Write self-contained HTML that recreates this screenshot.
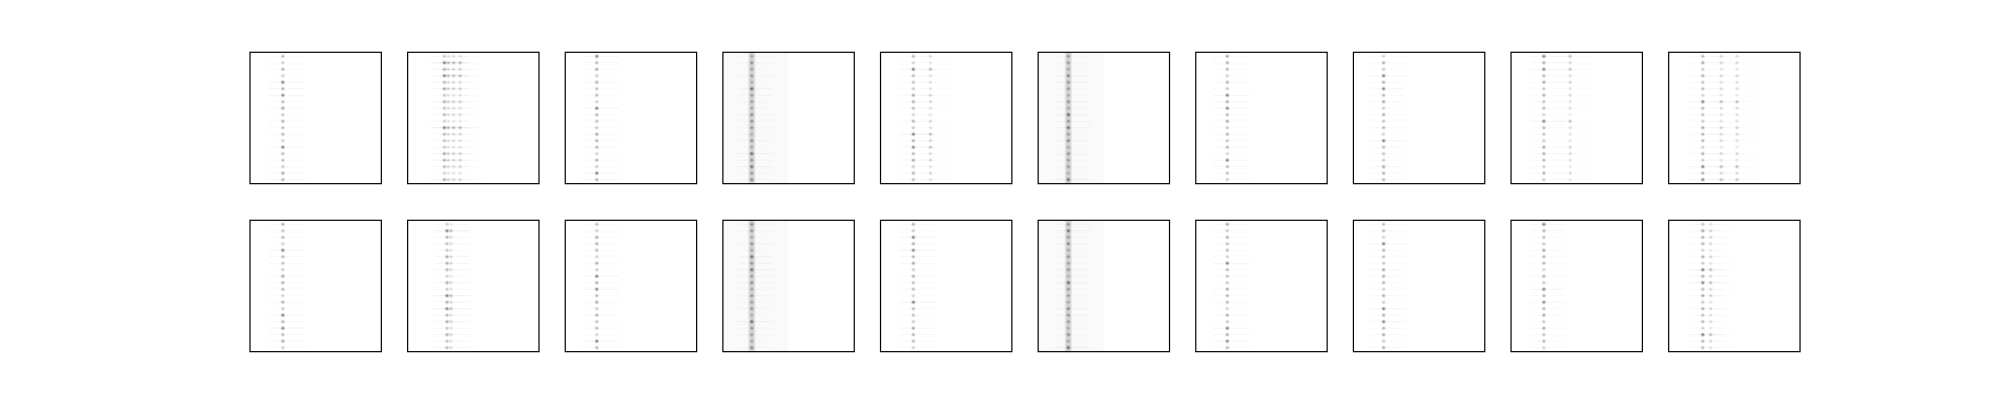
<!DOCTYPE html>
<html><head><meta charset="utf-8"><style>
html,body{margin:0;padding:0;background:#fff;}
svg{display:block;font-family:"Liberation Sans",sans-serif;}
</style></head><body>
<svg id="fig" width="2000" height="400" viewBox="0 0 2000 400" xmlns="http://www.w3.org/2000/svg">
<defs><filter id="blur" x="-50%" y="-50%" width="200%" height="200%"><feGaussianBlur stdDeviation="0.7"/></filter></defs>
</svg>
<script>
// Data: per panel main column positions (fraction of width) and type
const panelCols = [
  [0.25],[0.28,0.31,0.35,0.40],[0.24],[0.22],[0.25,0.38],[0.23],[0.24],[0.23],[0.25,0.45],[0.26,0.40,0.52],
  [0.25],[0.30,0.33],[0.24],[0.22],[0.25],[0.23],[0.24],[0.23],[0.25],[0.26,0.32]
];
const panelBand = [0,0,0,1,0,1,0,0,0,0, 0,0,0,1,0,1,0,0,0,0];
const dotIntensity = [0.45,0.3,0.5,0.35,0.8,0.5,0.75,0.45,0.55,0.35,0.5,0.4,0.45,0.3,0.8,0.45,0.4,0.35,0.55,0.5];
const dotRows = 20;

const svg = document.getElementById('fig');
const NS = 'http://www.w3.org/2000/svg';
const left = 250, step = 157.63, size = 131.36;
const rowTops = [52.3, 220.3];
function xPos(i, f){ return left + (i%10)*step + f*size; }
function yPos(i, r){ return rowTops[Math.floor(i/10)] + 4 + r*(size-8)/(dotRows-1); }

for (let p=0;p<20;p++){
  const g = document.createElementNS(NS,'g');
  
  
  const x0 = left + (p%10)*step, y0 = rowTops[Math.floor(p/10)];
  if (panelBand[p]){
    const bg = document.createElementNS(NS,'rect');
    bg.setAttribute('x', x0); bg.setAttribute('y', y0); bg.setAttribute('width', size*0.5); bg.setAttribute('height', size);
    bg.setAttribute('fill', '#000'); bg.setAttribute('opacity', '0.02');
    g.appendChild(bg);
    const band = document.createElementNS(NS,'rect');
    
    
    band.setAttribute('x', xPos(p, panelCols[p][0]) - 3); band.setAttribute('y', y0);
    band.setAttribute('width', 6); band.setAttribute('height', size);
    band.setAttribute('fill', '#000'); band.setAttribute('opacity', '0.15'); band.setAttribute('filter','url(#blur)');
    g.appendChild(band);
  }
  panelCols[p].forEach((f, ci) => {
    for (let r=0;r<dotRows;r++){
      const v = dotIntensity[(r + p*3) % dotRows] * (ci===0 ? 1 : 0.5);
      const line = document.createElementNS(NS,'rect');
      line.setAttribute('x', xPos(p,f) - 14); line.setAttribute('y', yPos(p,r) - 0.5);
      line.setAttribute('width', 36); line.setAttribute('height', 1);
      line.setAttribute('fill', '#000'); line.setAttribute('opacity', (v*0.06).toFixed(3));
      g.appendChild(line);
      const d = document.createElementNS(NS,'rect');
      
      
      d.setAttribute('x', xPos(p,f) - 1.2); d.setAttribute('y', yPos(p,r) - 1.2);
      d.setAttribute('width', 2.4); d.setAttribute('height', 2.4);
      d.setAttribute('fill', '#000'); d.setAttribute('opacity', (v*0.8).toFixed(3));
      d.setAttribute('filter','url(#blur)');
      g.appendChild(d);
    }
  });
  const fr = document.createElementNS(NS,'rect');
  
  
  fr.setAttribute('x', x0); fr.setAttribute('y', y0); fr.setAttribute('width', size); fr.setAttribute('height', size);
  fr.setAttribute('fill', 'none'); fr.setAttribute('stroke', '#000'); fr.setAttribute('stroke-width', '1.2');
  g.appendChild(fr);
  svg.appendChild(g);
}
</script>
</body></html>
